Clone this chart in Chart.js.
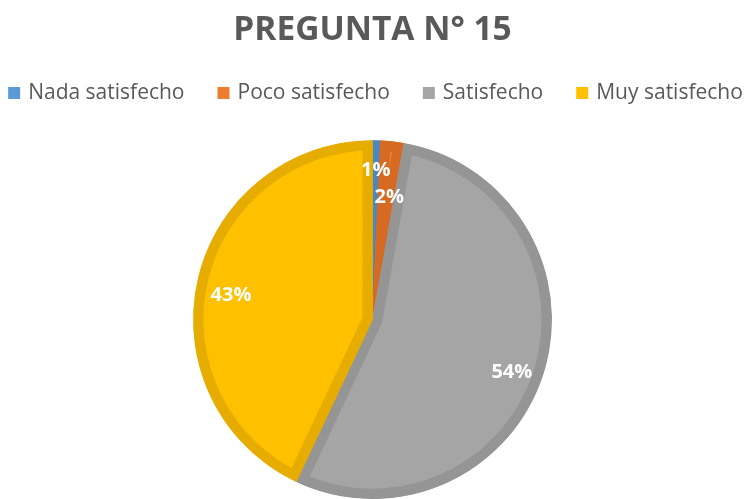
<!DOCTYPE html>
<html>
<head>
<meta charset="utf-8">
<script src="https://cdn.jsdelivr.net/npm/chart.js@4/dist/chart.umd.min.js"></script>
<style>
  html, body { margin: 0; padding: 0; background: #fff; overflow: hidden; }
  #wrap { width: 745px; height: 499px; }
</style>
</head>
<body>
<div id="wrap"><canvas id="pieChart" width="745" height="499"></canvas></div>
<script>
var categories = ['Nada satisfecho', 'Poco satisfecho', 'Satisfecho', 'Muy satisfecho'];
var percentValues = [0.7, 2.1, 54.2, 43.0];
var percentLabels = ['1%', '2%', '54%', '43%'];

var fillColors = ['#5B9BD5', '#ED7D31', '#A5A5A5', '#FFC000'];
var borderColors = ['#4A88C2', '#D66A22', '#959595', '#E6AD00'];
// label placement: fraction of radius, and a small turn (degrees) off the slice middle
var labelRadius = [0.83, 0.69, 0.83, 0.8];
var labelTurn = [0, 1.5, 3, -3];

// draws the white percent labels on the slices
var sliceLabels = {
  id: 'sliceLabels',
  afterDatasetsDraw: function (chart) {
    var ctx = chart.ctx;
    var meta = chart.getDatasetMeta(0);
    ctx.save();
    ctx.fillStyle = '#ffffff';
    ctx.font = 'bold 20px "Open Sans"';
    ctx.textAlign = 'center';
    ctx.textBaseline = 'middle';
    meta.data.forEach(function (arc, i) {
      var p = arc.getProps(['x', 'y', 'startAngle', 'endAngle', 'outerRadius'], true);
      var mid = (p.startAngle + p.endAngle) / 2 + labelTurn[i] * Math.PI / 180;
      var r = p.outerRadius * labelRadius[i];
      ctx.fillText(percentLabels[i], p.x + Math.cos(mid) * r, p.y + Math.sin(mid) * r);
    });
    ctx.restore();
  }
};

// legend drawn by hand so the row can be as wide as the Excel one
var wideLegend = {
  id: 'wideLegend',
  afterDraw: function (chart) {
    var ctx = chart.ctx;
    var labels = chart.data.labels;
    var colors = chart.data.datasets[0].backgroundColor;
    var box = 12, gap = 8, itemGap = 33, y = 93;
    ctx.save();
    ctx.font = '21px "Open Sans"';
    ctx.textBaseline = 'middle';
    var widths = labels.map(function (l) { return ctx.measureText(l).width; });
    var total = widths.reduce(function (a, w) { return a + box + gap + w; }, 0) + itemGap * (labels.length - 1);
    var x = (chart.width - total) / 2 + 3;
    labels.forEach(function (l, i) {
      ctx.fillStyle = colors[i];
      ctx.fillRect(x, y - box / 2, box, box);
      ctx.fillStyle = '#595959';
      ctx.fillText(l, x + box + gap, y);
      x += box + gap + widths[i] + itemGap;
    });
    ctx.restore();
  }
};

var pieChart = new Chart(document.getElementById('pieChart'), {
  type: 'pie',
  data: {
    labels: categories,
    datasets: [{
      data: percentValues,
      backgroundColor: fillColors,
      borderColor: borderColors,
      borderWidth: 10,
      borderAlign: 'inner'
    }]
  },
  options: {
    responsive: false,
    animation: false,
    layout: { padding: { top: 0, bottom: 0 } },
    plugins: {
      title: {
        display: true,
        text: 'PREGUNTA N° 15',
        color: '#595959',
        font: { family: '"Open Sans"', size: 33.5, weight: 'bold' },
        padding: { top: 10, bottom: 90 }
      },
      legend: { display: false },
      tooltip: { enabled: false }
    }
  },
  plugins: [sliceLabels, wideLegend]
});
</script>
</body>
</html>
